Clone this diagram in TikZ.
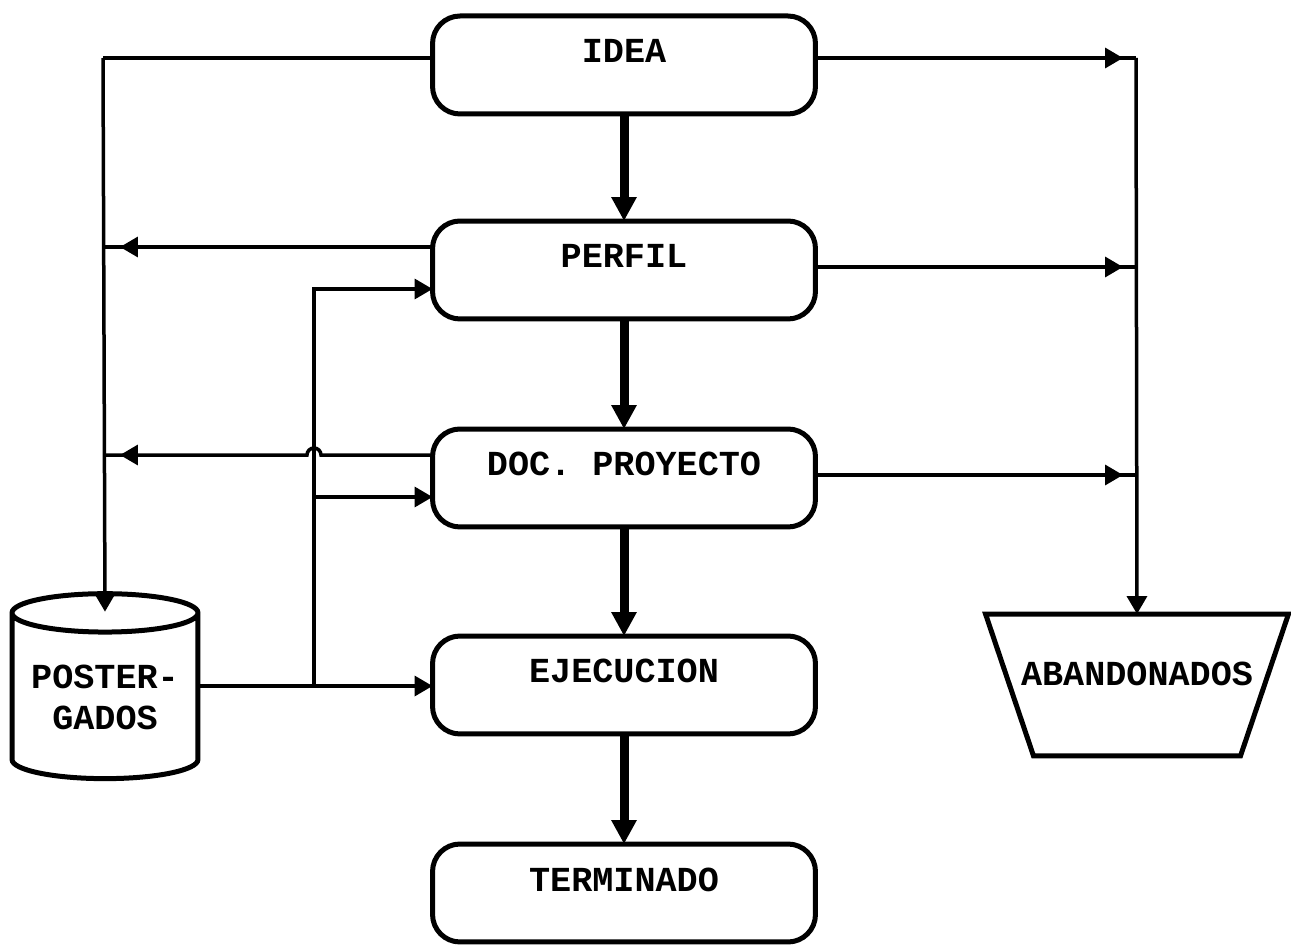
\documentclass[tikz,border=0pt]{standalone}
\usepackage{fontspec}
\setmainfont{Liberation Mono}
\usetikzlibrary{arrows.meta,shapes.geometric,calc,decorations.markings}

\begin{document}
\begin{tikzpicture}[x=0.02cm,y=-0.02cm,
  font=\fontsize{20}{23.3}\selectfont\bfseries,
  stage/.style={draw, line width=0.1cm, rounded corners=0.55cm,
    minimum width=7.66cm, inner xsep=0pt, inner ysep=0pt,
    text height=0.94cm, text depth=1.02cm, outer sep=0pt, anchor=north},
  store/.style={cylinder, shape border rotate=90, draw, line width=0.1cm,
    aspect=0.26, minimum width=3.72cm, minimum height=3.7cm,
    align=center, inner sep=0pt, outer sep=0pt},
  bin/.style={minimum width=6.06cm, minimum height=2.84cm, inner sep=0pt,
    text depth=0.44cm, outer sep=0pt},
  link/.style={line width=0.07cm},
  arr/.style={link, -{Triangle[length=0.36cm,width=0.4cm]}},
  bigarr/.style={line width=0.18cm, -{Triangle[length=0.48cm,width=0.48cm]}},
  midtip/.style={link, postaction={decorate}, decoration={markings,
    mark=at position #1 with {\arrow{Triangle[length=0.36cm,width=0.4cm]}}}}
]
\useasboundingbox (0,0) rectangle (1291,946);

% main stages
\node[stage] (IDEA)   at (624,16)  {IDEA};
\node[stage] (PERFIL) at (624,221) {PERFIL};
\node[stage] (DOC)    at (624,429) {DOC. PROYECTO};
\node[stage] (EJE)    at (624,636) {EJECUCION};
\node[stage] (TERM)   at (624,844) {TERMINADO};

% side stores
\node[store] (POST) at (105,697) {POSTER-\\GADOS};
\node[bin]   (ABAN) at (1137,685) {ABANDONADOS};
\draw[line width=0.1cm, line join=miter]
  (ABAN.north west) -- (ABAN.north east)
  -- ($(ABAN.south east)+(-48,0)$) -- ($(ABAN.south west)+(48,0)$) -- cycle;

% junction points
\coordinate (LT) at (103,58);
\coordinate (LP) at (103,247);
\coordinate (LD) at (103,455);
\coordinate (RT) at (1136,58);
\coordinate (RP) at (1136,267);
\coordinate (RD) at (1136,475);
\coordinate (IP) at (314,289);
\coordinate (ID) at (314,497);
\coordinate (IE) at (314,686);

% main flow
\draw[bigarr] (IDEA.south) -- (PERFIL.north);
\draw[bigarr] (PERFIL.south) -- (DOC.north);
\draw[bigarr] (DOC.south) -- (EJE.north);
\draw[bigarr] (EJE.south) -- (TERM.north);

% postponed branch
\draw[link] (IDEA.west |- LT) -- (LT);
\draw[arr] (LT) -- ($(POST.north)+(0,18)$);
\draw[midtip=-0.34cm] (PERFIL.west |- LP) -- (LP);
\draw[midtip=-0.34cm] (DOC.west |- LD) -- (321,455)
  arc[start angle=0, end angle=-180, radius=7] -- (LD);

% re-entry from postponed
\draw[arr] (POST.east |- IE) -- (EJE.west |- IE);
\draw[arr] (IE) -- (IP) -- (PERFIL.west |- IP);
\draw[arr] (ID) -- (DOC.west |- ID);

% abandoned branch
\draw[midtip=-0.26cm] (IDEA.east |- RT) -- (RT);
\draw[midtip=-0.26cm] (PERFIL.east |- RP) -- (RP);
\draw[midtip=-0.26cm] (DOC.east |- RD) -- (RD);
\draw[arr] (RT) -- (ABAN.north);
\end{tikzpicture}
\end{document}
